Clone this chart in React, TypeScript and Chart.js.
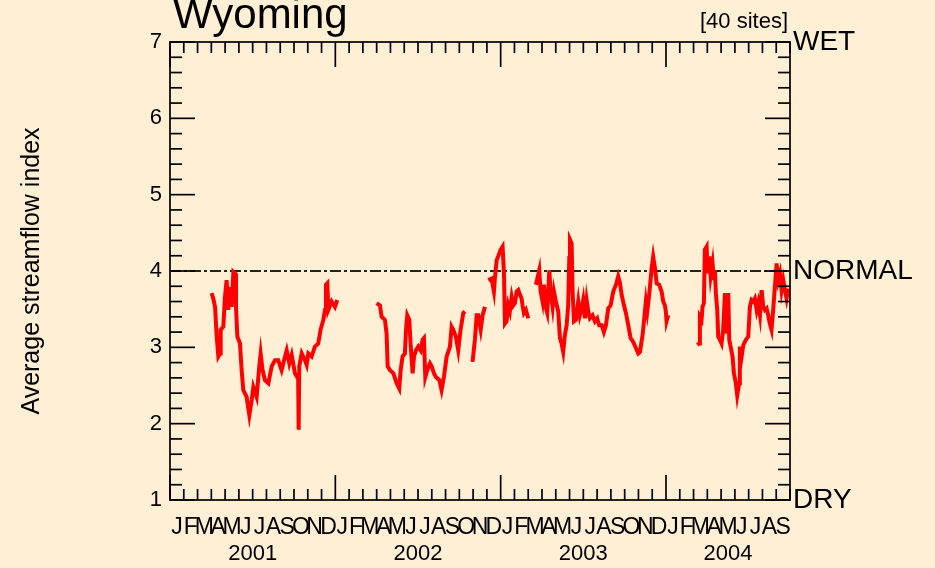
import React, { useEffect, useRef } from 'react';
import { Chart, registerables } from 'chart.js';

Chart.register(...registerables);

const FONT = '"Liberation Sans", Arial, Helvetica, sans-serif';
const BG = '#FFEFD5';

const titleText = 'Wyoming';
const siteText = '[40 sites]';
const axisTitle = 'Average streamflow index';
const monthLetters = ['J', 'F', 'M', 'A', 'M', 'J', 'J', 'A', 'S', 'O', 'N', 'D'];
const years = ['2001', '2002', '2003', '2004'];
const xMax = 45; // months shown: Jan 2001 .. Sep 2004
const yMin = 1;
const yMax = 7;
const yMinorStep = 0.2;
const levelValues = [1, 4, 7];
const levelLabels = ['DRY', 'NORMAL', 'WET'];
const normalValue = 4;

// time in months since 1 Jan 2001; null value = gap in record
const streamX = [
  3.02, 3.14, 3.27, 3.39, 3.51, 3.63, 3.68, 3.87, 3.99, 4.11, 4.23, 4.35, 4.47, 4.6, 4.72, 4.79, 4.89, 5.08, 5.2, 5.32,
  5.56, 5.76, 5.93, 6.05, 6.29, 6.48, 6.58, 6.72, 6.89, 7.14, 7.38, 7.62, 7.86, 8.1, 8.35, 8.47, 8.66, 8.83, 9.07, 9.24,
  9.3, 9.34, 9.38, 9.56, 9.8, 9.92, 10.04, 10.28, 10.52, 10.76, 10.93, 11.13, 11.25, 11.32, 11.42, 11.49, 11.73, 11.97, 12.14,
  13.5,
  15.0, 15.24, 15.36, 15.6, 15.72, 15.8, 15.97, 16.21, 16.45, 16.64, 16.74, 16.88, 17.05, 17.13, 17.22, 17.37, 17.46, 17.61,
  17.71, 17.85, 18.02, 18.19, 18.34, 18.43, 18.53, 18.67, 18.87, 18.99, 19.16, 19.3, 19.55, 19.71, 19.88, 20.08, 20.32,
  20.44, 20.56, 20.75, 20.92, 21.09, 21.29, 21.41,
  21.7,
  21.96, 22.13, 22.26, 22.37, 22.55, 22.69, 22.86,
  22.98,
  23.1, 23.34, 23.51, 23.58, 23.71, 23.82, 24.0, 24.14, 24.24, 24.31, 24.43, 24.55, 24.67, 24.8, 24.92, 25.04, 25.16, 25.28,
  25.4, 25.52, 25.59, 25.69, 25.83, 26.0,
  26.3,
  26.56, 26.66, 26.8, 26.9, 27.04, 27.14, 27.29, 27.38, 27.53, 27.62, 27.77, 27.87, 28.01, 28.18, 28.3, 28.42, 28.54, 28.66,
  28.79, 28.9, 28.98, 29.03, 29.15, 29.22, 29.32, 29.46, 29.63, 29.75, 29.88, 29.99, 30.12, 30.24, 30.36, 30.48, 30.67,
  30.84, 31.01, 31.15, 31.33, 31.49, 31.64, 31.81, 31.98, 32.17, 32.37, 32.53, 32.66, 32.78, 32.95, 33.09, 33.26, 33.43,
  33.62, 33.82, 33.99, 34.11, 34.3, 34.4, 34.54, 34.64, 34.78, 34.96, 35.07, 35.2, 35.32, 35.51, 35.68, 35.8, 35.92, 35.99,
  36.04, 36.16,
  37.2,
  38.27, 38.41, 38.46, 38.58, 38.65, 38.75, 38.82, 38.95, 39.02, 39.14, 39.24, 39.38, 39.48, 39.55, 39.62, 39.72, 39.79,
  39.91, 40.03, 40.15, 40.28, 40.4, 40.52, 40.59, 40.69, 40.83, 40.93, 41.07, 41.17, 41.31, 41.36, 41.49, 41.61, 41.8,
  41.97, 42.09, 42.21, 42.33, 42.45, 42.58, 42.69, 42.82, 42.94, 43.06, 43.18, 43.3, 43.42, 43.54, 43.66, 43.78, 43.9,
  44.03, 44.14, 44.27, 44.39, 44.51, 44.63, 44.75, 44.87,
];

const streamY = [
  3.71, 3.64, 3.53, 3.14, 2.88, 2.92, 3.23, 3.27, 3.66, 3.88, 3.49, 3.79, 3.53, 3.99, 3.97, 3.53, 3.14, 3.05, 2.7, 2.44,
  2.35, 2.11, 2.31, 2.48, 2.35, 2.75, 2.92, 2.7, 2.57, 2.53, 2.75, 2.83, 2.83, 2.7, 2.88, 2.96, 2.79, 2.9, 2.66, 2.61,
  2.6, 1.92, 2.75, 2.92, 2.83, 2.77, 2.92, 2.88, 3.01, 3.05, 3.23, 3.36, 3.49, 3.82, 3.84, 3.49, 3.6, 3.53, 3.62,
  null,
  3.58, 3.55, 3.4, 3.36, 3.18, 2.75, 2.7, 2.66, 2.53, 2.46, 2.7, 2.88, 2.92, 3.23, 3.42, 3.36, 3.05, 2.66,
  2.88, 2.96, 3.01, 2.96, 3.1, 3.12, 2.61, 2.7, 2.79, 2.75, 2.66, 2.61, 2.57, 2.44, 2.61, 2.88, 3.01,
  3.27, 3.23, 3.14, 2.96, 3.23, 3.45, 3.47,
  null,
  2.81, 3.1, 3.42, 3.42, 3.23, 3.42, 3.53,
  null,
  3.88, 3.9, 3.73, 3.9, 4.14, 4.19, 4.28, 4.32, 3.97, 3.31, 3.34, 3.55, 3.47, 3.66, 3.55, 3.58, 3.73, 3.75,
  3.69, 3.64, 3.55, 3.45, 3.49, 3.38,
  null,
  3.82, 3.9, 4.01, 3.73, 3.6, 3.82, 3.51, 3.45, 4.01, 3.73, 3.53, 3.73, 3.6, 3.47, 3.12, 3.05, 2.94, 3.16,
  3.29, 3.55, 4.17, 4.41, 4.36, 3.73, 3.34, 3.36, 3.6, 3.42, 3.51, 3.62, 3.38, 3.62, 3.47, 3.38, 3.42,
  3.34, 3.38, 3.29, 3.29, 3.2, 3.29, 3.51, 3.55, 3.73, 3.82, 3.93, 3.84, 3.69, 3.55, 3.45, 3.29, 3.12,
  3.07, 2.99, 2.92, 2.94, 3.16, 3.34, 3.6, 3.47, 3.69, 4.04, 4.19, 4.04, 3.84, 3.82, 3.73, 3.6, 3.55, 3.47,
  3.34, 3.42,
  null,
  3.03, 3.05, 3.4, 3.36, 3.53, 3.58, 4.28, 4.32, 3.97, 4.19, 3.93, 4.1, 3.88, 4.01, 3.71, 3.49, 3.14,
  3.1, 3.05, 3.23, 3.71, 3.18, 3.71, 3.1, 3.01, 2.88, 2.66, 2.53, 2.37, 2.53, 3.01, 2.88, 3.03, 3.1,
  3.14, 3.53, 3.62, 3.6, 3.64, 3.49, 3.58, 3.42, 3.75, 3.53, 3.49, 3.51, 3.42, 3.31, 3.23, 3.49, 3.79,
  4.1, 3.88, 3.97, 3.75, 3.88, 3.75, 3.64, 3.77,
];

const bgPlugin = {
  id: 'bg',
  beforeDraw(chart: any) {
    const { ctx, width, height } = chart;
    ctx.save();
    ctx.fillStyle = BG;
    ctx.fillRect(0, 0, width, height);
    ctx.restore();
  },
};

const framePlugin = {
  id: 'frameTicks',
  afterDatasetsDraw(chart: any) {
    const { ctx, chartArea } = chart;
    const { left, right, top, bottom } = chartArea;
    const ys = chart.scales.y;
    const xs = chart.scales.x;
    ctx.save();
    ctx.strokeStyle = '#000';
    ctx.lineWidth = 1.7;
    ctx.strokeRect(left, top, right - left, bottom - top);
    const seg = (x1: number, y1: number, x2: number, y2: number) => {
      ctx.beginPath();
      ctx.moveTo(x1, y1);
      ctx.lineTo(x2, y2);
      ctx.stroke();
    };
    const n = Math.round((yMax - yMin) / yMinorStep);
    const perMajor = Math.round(1 / yMinorStep);
    for (let k = 0; k <= n; k++) {
      const py = ys.getPixelForValue(yMin + k * yMinorStep);
      const len = k % perMajor === 0 ? 25 : 12;
      seg(left, py, left + len, py);
      seg(right, py, right - len, py);
    }
    for (let m = 0; m <= xMax; m++) {
      const px = xs.getPixelForValue(m);
      const len = m % 12 === 0 ? 25 : 11;
      seg(px, bottom, px, bottom - len);
      seg(px, top, px, top + len);
    }
    ctx.restore();
  },
  afterDraw(chart: any) {
    const { ctx, chartArea } = chart;
    ctx.save();
    ctx.fillStyle = '#000';
    ctx.textBaseline = 'alphabetic';
    ctx.textAlign = 'left';
    ctx.font = `42px ${FONT}`;
    ctx.fillText(titleText, chartArea.left + 3, 28);
    ctx.textAlign = 'right';
    ctx.font = `22px ${FONT}`;
    ctx.fillText(siteText, chartArea.right - 2, 28);
    ctx.restore();
  },
};

export default function App() {
  const canvasRef = useRef<HTMLCanvasElement | null>(null);

  useEffect(() => {
    const canvas = canvasRef.current;
    if (!canvas) return;
    Chart.defaults.font.family = FONT;
    Chart.defaults.color = '#000';
    const points = streamX.map((x, i) => ({ x, y: streamY[i] }));
    const noGrid = { display: false, drawTicks: false, tickLength: 0 };
    const chart = new Chart(canvas, {
      type: 'line',
      data: {
        datasets: [
          {
            data: points as any,
            borderColor: '#FF0000',
            borderWidth: 4,
            pointRadius: 0,
            tension: 0,
            spanGaps: false,
            xAxisID: 'x',
            yAxisID: 'y',
          },
          {
            data: [
              { x: 0, y: normalValue },
              { x: xMax, y: normalValue },
            ],
            borderColor: '#222',
            borderWidth: 2,
            borderDash: [11, 3, 3, 3],
            pointRadius: 0,
            xAxisID: 'x',
            yAxisID: 'y',
          },
        ],
      },
      options: {
        animation: false,
        responsive: false,
        devicePixelRatio: 1,
        layout: { padding: { top: 42, left: 0, right: 0, bottom: 0 } },
        plugins: { legend: { display: false }, tooltip: { enabled: false } },
        scales: {
          x: {
            type: 'linear',
            position: 'bottom',
            weight: 0,
            min: 0,
            max: xMax,
            afterBuildTicks: (s: any) => {
              s.ticks = Array.from({ length: xMax }, (_, i) => ({ value: i + 0.5 }));
            },
            ticks: {
              autoSkip: false,
              maxRotation: 0,
              minRotation: 0,
              padding: 16,
              color: '#000',
              font: { size: 23, lineHeight: 1 },
              callback: (v: any) => monthLetters[Math.floor(Number(v)) % 12],
            },
            grid: noGrid,
            border: { display: false },
            afterFit: (s: any) => {
              s.height = 40;
            },
          },
          xYear: {
            type: 'linear',
            position: 'bottom',
            weight: 1,
            min: 0,
            max: xMax,
            afterBuildTicks: (s: any) => {
              s.ticks = years.map((_, i) => ({ value: (12 * i + Math.min(12 * i + 12, xMax)) / 2 }));
            },
            ticks: {
              autoSkip: false,
              maxRotation: 0,
              minRotation: 0,
              padding: 3,
              color: '#000',
              font: { size: 22, lineHeight: 1 },
              callback: (_v: any, i: number) => years[i],
            },
            grid: noGrid,
            border: { display: false },
            afterFit: (s: any) => {
              s.height = 28;
            },
          },
          y: {
            type: 'linear',
            position: 'left',
            min: yMin,
            max: yMax,
            ticks: {
              stepSize: 1,
              padding: 8,
              color: '#000',
              font: { size: 22, lineHeight: 1 },
            },
            grid: noGrid,
            border: { display: false },
            title: {
              display: true,
              text: axisTitle,
              color: '#000',
              font: { size: 25, lineHeight: 1 },
              padding: { top: 20, bottom: 0 },
            },
            afterFit: (s: any) => {
              s.width = 170;
            },
          },
          yLevel: {
            type: 'linear',
            position: 'right',
            min: yMin,
            max: yMax,
            afterBuildTicks: (s: any) => {
              s.ticks = levelValues.map((v) => ({ value: v }));
            },
            ticks: {
              autoSkip: false,
              padding: 3,
              color: '#000',
              font: { size: 28, lineHeight: 1 },
              callback: (v: any) => levelLabels[levelValues.indexOf(Number(v))],
            },
            grid: noGrid,
            border: { display: false },
            afterFit: (s: any) => {
              s.width = 145;
            },
          },
        },
      } as any,
      plugins: [bgPlugin, framePlugin],
    });
    return () => chart.destroy();
  }, []);

  return (
    <div style={{ position: 'fixed', left: 0, top: 0, width: 935, height: 568, background: BG }}>
      <canvas ref={canvasRef} width={935} height={568} style={{ display: 'block' }} />
    </div>
  );
}
